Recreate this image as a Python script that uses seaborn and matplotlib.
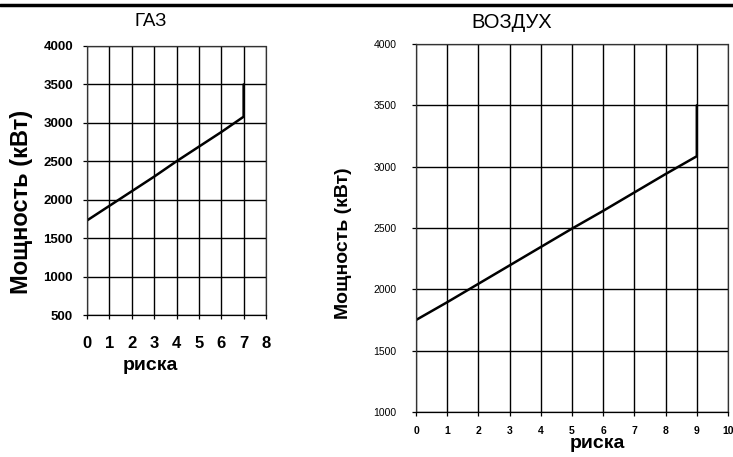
import matplotlib
matplotlib.use("Agg")
import matplotlib.pyplot as plt
from matplotlib.lines import Line2D
import seaborn as sns
import pandas as pd

sns.set_theme(style="white")
plt.rcParams['font.family'] = ['Liberation Sans', 'DejaVu Sans']

# ---- data ----
gas_x = [0, 1, 2, 3, 4, 5, 6, 7, 7]
gas_y = [1730, 1920, 2110, 2300, 2500, 2690, 2880, 3080, 3500]
air_x = [0, 1, 2, 3, 4, 5, 6, 7, 8, 9, 9]
air_y = [1750, 1895, 2045, 2195, 2345, 2495, 2640, 2790, 2940, 3085, 3500]

gas_xticks = [0, 1, 2, 3, 4, 5, 6, 7, 8]
gas_yticks = [500, 1000, 1500, 2000, 2500, 3000, 3500, 4000]
air_xticks = [0, 1, 2, 3, 4, 5, 6, 7, 8, 9, 10]
air_yticks = [1000, 1500, 2000, 2500, 3000, 3500, 4000]

title_gas = "ГАЗ"
title_air = "ВОЗДУХ"
xlabel = "риска"
ylabel = "Мощность (кВт)"

W, H = 733, 457
fig = plt.figure(figsize=(W / 100, H / 100), dpi=100)
fig.patch.set_facecolor("white")

def px_axes(l, t, r, b):
    return fig.add_axes([l / W, 1 - b / H, (r - l) / W, (b - t) / H])

ax1 = px_axes(87, 46, 266, 315)
ax2 = px_axes(416, 44, 728, 412)

def style(ax, xt, yt, xlim, ylim, xfs, yfs, xw, yw, xpad, ypad):
    ax.set_facecolor("white")
    ax.set_xlim(*xlim)
    ax.set_ylim(*ylim)
    ax.set_xticks(xt)
    ax.set_yticks(yt)
    ax.set_xticklabels([str(v) for v in xt], fontsize=xfs, fontweight=xw)
    ax.set_yticklabels([str(v) for v in yt], fontsize=yfs, fontweight=yw)
    ax.grid(True, color="black", linewidth=1.0, linestyle="-")
    ax.set_axisbelow(True)
    for s in ax.spines.values():
        s.set_visible(True)
        s.set_color("#333333")
        s.set_linewidth(0.9)
        s.set_linestyle((0, (1, 1)))
    ax.spines["bottom"].set_linestyle("-")
    ax.spines["bottom"].set_color("black")
    ax.tick_params(axis="both", direction="out", length=3, width=0.9,
                   color="black", labelcolor="black", bottom=True, left=True)
    ax.tick_params(axis="x", pad=xpad)
    ax.tick_params(axis="y", pad=ypad)

df_gas = pd.DataFrame({"x": gas_x, "y": gas_y})
df_air = pd.DataFrame({"x": air_x, "y": air_y})

sns.lineplot(data=df_gas, x="x", y="y", ax=ax1, sort=False, estimator=None,
             color="black", linewidth=1.8)
sns.lineplot(data=df_air, x="x", y="y", ax=ax2, sort=False, estimator=None,
             color="black", linewidth=1.8)

style(ax1, gas_xticks, gas_yticks, (0, 8), (500, 4000), 12, 9.5, "bold", "bold", 12, 7)
style(ax2, air_xticks, air_yticks, (0, 10), (1000, 4000), 7.5, 7.5, "bold", "normal", 7, 11)

ax1.set_xlabel(xlabel, fontsize=14, fontweight="bold", color="black")
ax1.set_ylabel(ylabel, fontsize=17, fontweight="bold", color="black")
ax1.xaxis.set_label_coords((150 - 87) / 179, (315 - 365) / 269)
ax1.yaxis.set_label_coords((22 - 87) / 179, 0.42)
for lab in (ax1.xaxis.label, ax1.yaxis.label):
    lab.set_va("center")

ax2.set_xlabel(xlabel, fontsize=14, fontweight="bold", color="black")
ax2.set_ylabel(ylabel, fontsize=14, fontweight="bold", color="black")
ax2.xaxis.set_label_coords((597 - 416) / 312, (412 - 443) / 368)
ax2.yaxis.set_label_coords((343 - 416) / 312, 0.46)
for lab in (ax2.xaxis.label, ax2.yaxis.label):
    lab.set_va("center")

fig.text(151 / W, 1 - 21 / H, title_gas, ha="center", va="center",
         fontsize=13.5, color="black")
fig.text(512 / W, 1 - 22 / H, title_air, ha="center", va="center",
         fontsize=14.5, color="black")

fig.add_artist(Line2D([0, 1], [1 - 5 / H, 1 - 5 / H], transform=fig.transFigure,
                      color="black", linewidth=2.5))

fig.savefig("out.png", dpi=100, facecolor="white")
